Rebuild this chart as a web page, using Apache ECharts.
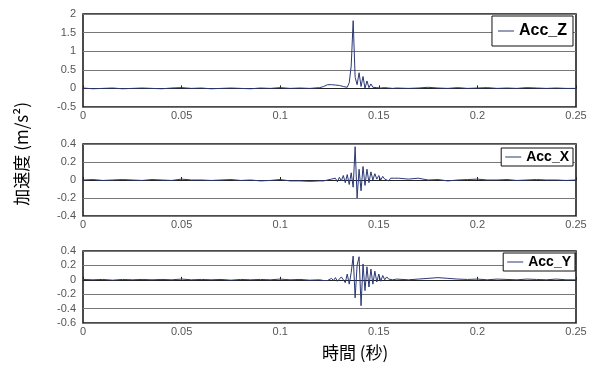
<!DOCTYPE html>
<html><head><meta charset="utf-8">
<script src="https://cdn.jsdelivr.net/npm/echarts@6/dist/echarts.min.js"></script>
<style>html,body{margin:0;padding:0;background:#fff}#c{width:590px;height:367px}</style>
</head><body><div id="c"></div>
<script>
var times = [
 0,0.005,0.01,0.015,0.02,0.025,0.03,0.035,0.04,0.045,0.05,0.055,0.06,0.065,0.07,0.075,0.08,0.085,0.09,0.095,0.1,0.105,0.11,0.115,
 0.12,0.121,0.122,0.123,0.124,0.125,0.126,0.127,0.128,0.129,0.13,0.131,0.132,0.133,0.134,0.135,0.136,0.137,0.138,0.139,
 0.14,0.141,0.142,0.143,0.144,0.145,0.146,0.147,0.148,0.149,0.15,0.151,0.152,0.153,0.154,0.155,0.156,0.157,0.158,0.159,
 0.16,0.165,0.17,0.175,0.18,0.185,0.19,0.195,0.2,0.205,0.21,0.215,0.22,0.225,0.23,0.235,0.24,0.245,0.25
];
var accZ = [
 0.01,-0.01,0.0,0.01,-0.01,0.0,0.01,0.0,-0.01,0.01,0.02,0.0,0.01,-0.01,0.0,0.01,0.0,-0.01,0.01,0.0,0.02,0.0,0.01,0.0,
 0.02,0.03,0.05,0.08,0.1,0.11,0.1,0.12,0.09,0.11,0.08,0.12,0.05,0.1,0.03,0.15,0.6,1.82,0.3,0.1,
 0.42,0.05,0.32,0.0,0.2,0.02,0.12,0.03,0.08,0.02,0.05,0.01,0.04,0.02,0.03,0.01,0.02,0.0,0.02,0.01,
 0.02,0.0,0.01,0.03,0.01,0.0,0.02,0.0,0.01,0.02,0.0,0.01,0.0,0.02,0.01,0.0,0.01,0.0,0.0
];
var accX = [
 0,0.005,-0.005,0,0.005,0,-0.005,0.005,0,-0.005,0.01,0,0,-0.005,0,0.005,-0.005,0,-0.01,-0.005,0.005,-0.01,-0.01,-0.015,
 -0.01,-0.02,-0.01,-0.02,0.0,-0.015,0.01,-0.01,0.02,-0.02,0.03,-0.01,0.05,-0.03,0.06,-0.05,0.08,-0.08,0.37,-0.2,
 0.12,-0.12,0.15,-0.06,0.12,-0.03,0.09,0.0,0.07,0.01,0.05,0.0,0.04,0.01,0.03,-0.01,0.02,0.0,0.02,0.01,
 0.02,0.01,0.02,0.0,0.005,-0.01,0.0,0.005,0.01,0.0,0.0,0.005,-0.005,0.0,0.005,0.0,0.0,-0.005,0.0
];
var accY = [
 0.005,0,0.005,-0.005,0.005,0,0.005,0,0.005,0,0.01,0,0.005,0,0.005,-0.005,0.005,0,0.005,0,0.01,0,0.005,-0.005,
 0.0,0.01,-0.01,0.015,-0.01,-0.02,0.02,-0.01,0.03,-0.02,-0.03,0.04,0.05,-0.04,0.08,-0.06,0.1,0.33,-0.25,0.2,
 0.32,-0.36,0.22,-0.15,0.18,-0.1,0.15,-0.06,0.12,-0.03,0.08,-0.02,0.06,0.0,0.04,0.01,0.03,0.0,0.02,0.01,
 0.01,0.0,0.01,0.02,0.03,0.02,0.01,0.005,0.01,0.0,0.01,0.005,0.0,0.01,0.005,0.0,0.01,0.0,0.0
];
var xTicks = {min:0, max:0.25, interval:0.05};
var yZ = {min:-0.5, max:2, interval:0.5};
var yX = {min:-0.4, max:0.4, interval:0.2};
var yY = {min:-0.6, max:0.4, interval:0.2};
var names = ['Acc_Z','Acc_X','Acc_Y'];

var lineColor = '#2b3875';
var fontFam = '"Liberation Sans", Arial, sans-serif';
function pairs(v){ return times.map(function(t,i){ return [t, v[i]]; }); }
function fmt(v){ return String(Math.round(v*1000)/1000); }

var grids = [
 {left:83, right:14, top:14, height:93},
 {left:83, right:14, top:144, height:72},
 {left:83, right:14, top:251, height:72}
].map(function(g){ g.show=true; g.borderColor='#111'; g.borderWidth=1.5; g.backgroundColor='#fff'; return g; });

var yRanges = [yZ, yX, yY];
var xAxes = [], yAxes = [], series = [], legends = [];
var legendPos = [
 {right:17, top:16, fontSize:16, padding:[7,6,7,6]},
 {right:17, top:148, fontSize:14, padding:[2,4,2,4]},
 {right:15, top:253, fontSize:14, padding:[2,4,2,4]}
];
var vals = [accZ, accX, accY];
for (var i=0;i<3;i++){
  xAxes.push({
    type:'value', gridIndex:i, min:xTicks.min, max:xTicks.max, interval:xTicks.interval,
    axisLine:{onZero:true, lineStyle:{color:'#222', width:1}},
    axisTick:{show:true, inside:true, length:3, lineStyle:{color:'#222'}},
    axisLabel:{color:'#555', fontSize:11, fontFamily:fontFam, margin:3, formatter:fmt},
    splitLine:{show:false}
  });
  yAxes.push({
    type:'value', gridIndex:i, min:yRanges[i].min, max:yRanges[i].max, interval:yRanges[i].interval,
    axisLine:{show:false}, axisTick:{show:false},
    axisLabel:{color:'#555', fontSize:11, fontFamily:fontFam, margin:7, formatter:fmt},
    splitLine:{show:true, lineStyle:{color:'#777', width:1}}
  });
  series.push({
    type:'line', name:names[i], xAxisIndex:i, yAxisIndex:i, data:pairs(vals[i]),
    showSymbol:false, symbol:'none', lineStyle:{color:lineColor, width:1}, itemStyle:{color:lineColor}, z:5
  });
  var lp = legendPos[i];
  legends.push({
    data:[names[i]], right:lp.right, top:lp.top, orient:'horizontal',
    backgroundColor:'#fff', borderColor:'#111', borderWidth:1, padding:lp.padding,
    icon:'rect', itemWidth:16, itemHeight:1,
    textStyle:{fontSize:lp.fontSize, fontWeight:'bold', color:'#000', fontFamily:fontFam},
    selectedMode:false
  });
}

var chart = echarts.init(document.getElementById('c'));
chart.setOption({
  animation:false,
  grid:grids, xAxis:xAxes, yAxis:yAxes, series:series, legend:legends,
  graphic:[
    {type:'text', left:13, top:102, rotation:Math.PI/2,
     style:{text:'加速度 (m/s²)', fontSize:17, fill:'#000', fontFamily:'"Noto Sans CJK JP", sans-serif'}},
    {type:'text', left:322, top:344,
     style:{text:'時間 (秒)', fontSize:17, fill:'#000', fontFamily:'"Noto Sans CJK JP", sans-serif'}}
  ]
});
</script></body></html>
